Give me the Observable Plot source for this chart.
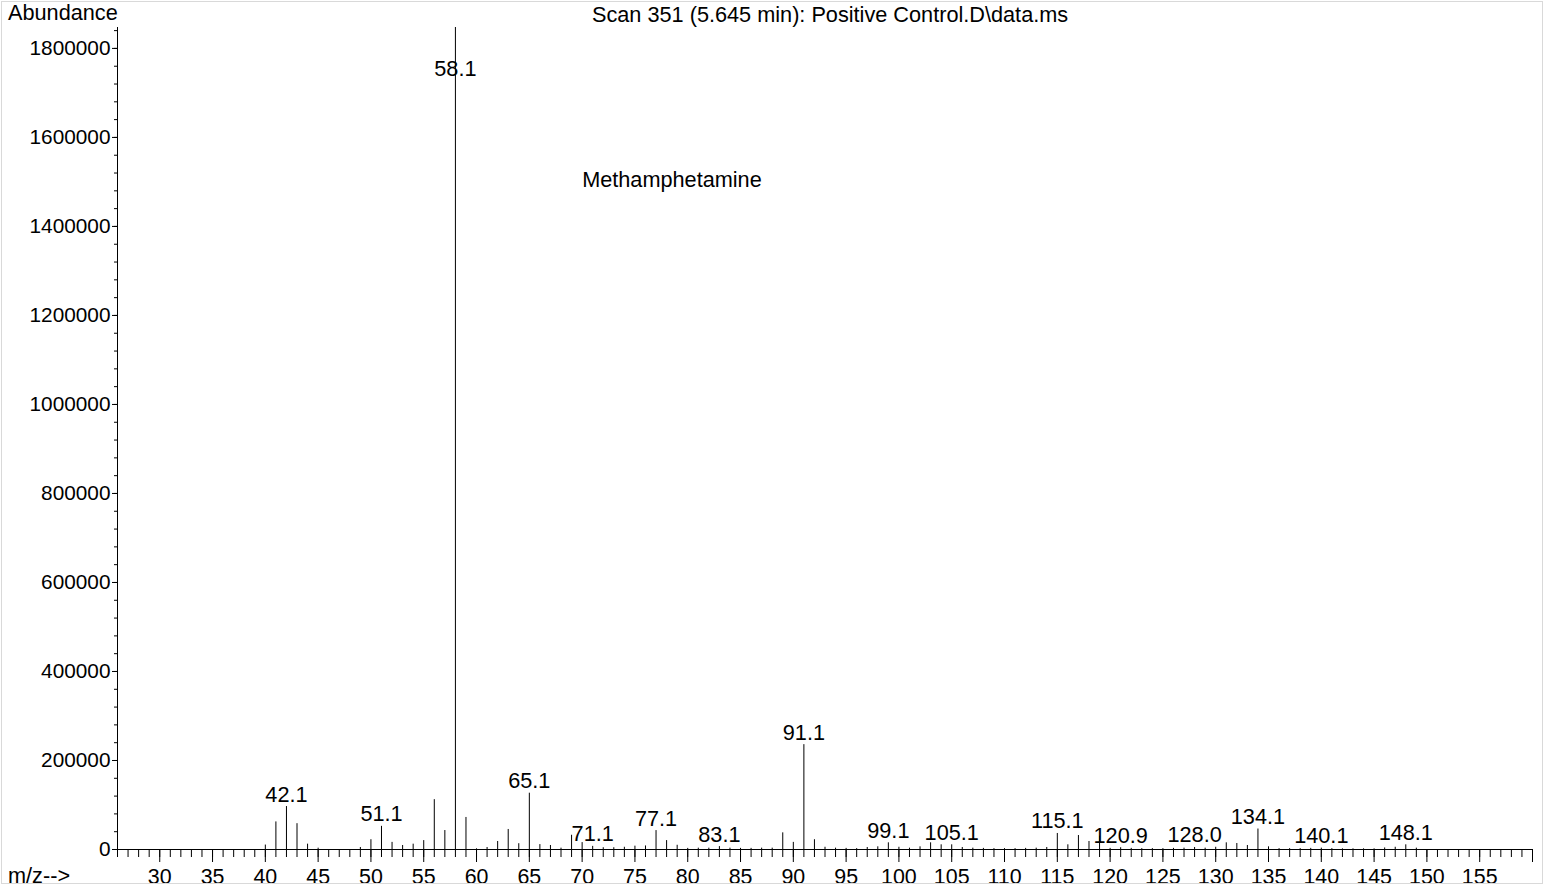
<!DOCTYPE html>
<html>
<head>
<meta charset="utf-8">
<script src="https://cdn.jsdelivr.net/npm/d3@7"></script>
<script src="https://cdn.jsdelivr.net/npm/@observablehq/plot@0.6"></script>
<style>
  html, body { margin: 0; padding: 0; background: #fff; }
  #wrap { position: relative; width: 1551px; height: 888px; overflow: hidden; font-family: "Liberation Sans", Arial, sans-serif; color: #000; }
  #frame { position: absolute; left: 1px; top: 1px; width: 1542px; height: 883px; border: 1px solid #d9d9d9; box-sizing: border-box; pointer-events: none; }
  .lbl { position: absolute; font-size: 21.7px; line-height: 1; white-space: nowrap; }
  #chart svg { display: block; }
</style>
</head>
<body>
<div id="wrap">
  <div id="chart"></div>
  <div id="frame"></div>
  <div class="lbl" style="left:8px; top:2px;">Abundance</div>
  <div class="lbl" style="left:592px; top:4px;">Scan 351 (5.645 min): Positive Control.D\data.ms</div>
  <div class="lbl" style="left:8px; top:865px;">m/z--&gt;</div>
</div>
<script>
// nominal m/z of each ion
const mz = [
  40, 41, 42, 43, 44, 45, 49, 50, 51, 52, 53, 54, 55, 56, 57, 58, 59, 60,
  61, 62, 63, 64, 65, 66, 67, 68, 69, 70, 71, 72, 73, 74, 75, 76, 77, 78,
  79, 80, 81, 82, 83, 84, 85, 86, 87, 88, 89, 90, 91, 92, 93, 94, 95, 96,
  97, 98, 99, 100, 101, 102, 103, 104, 105, 106, 107, 108, 109, 110, 111,
  112, 113, 114, 115, 116, 117, 118, 119, 120, 121, 122, 123, 124, 125, 126,
  127, 128, 129, 130, 131, 132, 133, 134, 135, 136, 137, 138, 139, 140,
  141, 142, 143, 144, 145, 146, 147, 148, 149
];
// abundance of each ion
const abundance = [
  10000, 62000, 96500, 58000, 12000, 3000, 4500, 22000, 52000, 16000, 9000, 12000, 20000, 112000, 42600, 1847000, 72000, 1500,
  4500, 18000, 45000, 13000, 126500, 11000, 9000, 3000, 32000, 15500, 7000, 4000, 4000, 5000, 7500, 8000, 42500, 20000,
  9500, 2500, 3000, 3000, 6500, 3000, 2500, 2500, 3000, 3000, 37400, 16000, 235600, 22000, 5000, 3000, 2500, 2000,
  4500, 6000, 15000, 5000, 3000, 6000, 15000, 10500, 10500, 4500, 3000, 2500, 2000, 2000, 2000,
  2500, 3000, 4500, 36000, 10500, 31400, 18000, 30000, 2500, 4000, 2500, 2000, 2000, 2000, 2500,
  3000, 4500, 3000, 5000, 15000, 13500, 9000, 46000, 6000, 2000, 2000, 2000, 2500, 3000,
  2000, 1500, 1500, 1500, 1500, 3500, 5000, 10500, 3000
];
// labelled peaks: nominal m/z and the printed label
const labelMz   = [42, 51, 65, 71, 77, 83, 91, 99, 105, 115, 121, 128, 134, 140, 148];
const labelText = ["42.1", "51.1", "65.1", "71.1", "77.1", "83.1", "91.1", "99.1", "105.1",
  "115.1", "120.9", "128.0", "134.1", "140.1", "148.1"];
const basePeakMz = 58;
const basePeakText = "58.1";
const compoundName = "Methamphetamine";
const compoundMz = 70;
const compoundAbundance = 1505000;

// axis ticks
const xMajorTicks = d3.range(30, 161, 5);
const xMinorTicks = d3.range(26, 161, 1);
const yMajorTicks = d3.range(0, 1800001, 200000);
const yMinorTicks = d3.range(0, 1847000, 40000);
const xDomain = [26, 160];
const yDomain = [0, 1847000];

const peaks = mz.map((m, i) => ({mz: m, abundance: abundance[i]}));
const byMz = new Map(peaks.map(d => [d.mz, d]));
const labelled = labelMz.map((m, i) => ({mz: m, abundance: byMz.get(m).abundance, text: labelText[i]}));
const base = [{mz: basePeakMz, abundance: byMz.get(basePeakMz).abundance, text: basePeakText}];

const chart = Plot.plot({
  width: 1551,
  height: 888,
  marginLeft: 117,
  marginRight: 19,
  marginTop: 27,
  marginBottom: 39,
  x: {domain: xDomain},
  y: {domain: yDomain},
  style: {fontFamily: "'Liberation Sans', Arial, sans-serif", fontSize: "21.7px", color: "#000", background: "transparent", overflow: "visible"},
  marks: [
    Plot.axisX({ticks: xMinorTicks, tickSize: 8, tickFormat: () => "", label: null}),
    Plot.axisX({ticks: xMajorTicks, tickSize: 13, tickPadding: 6, fontSize: 21.4, tickFormat: d => d < 160 ? String(d) : "", label: null}),
    Plot.axisY({ticks: yMinorTicks, tickSize: 3, tickFormat: () => "", label: null}),
    Plot.axisY({ticks: yMajorTicks, tickSize: 5, tickPadding: 2, fontSize: 20.8, tickFormat: d => String(d), label: null}),
    Plot.ruleY([0]),
    Plot.ruleX([xDomain[0]]),
    Plot.ruleX(peaks, {x: "mz", y1: 0, y2: "abundance", stroke: "#000", strokeWidth: 1}),
    Plot.text(labelled, {x: "mz", y: "abundance", text: "text", lineAnchor: "bottom", dy: -5, fill: "#000"}),
    Plot.text(base, {x: "mz", y: "abundance", text: "text", lineAnchor: "bottom", dy: 48, fill: "#000"}),
    Plot.text([{mz: compoundMz, abundance: compoundAbundance}], {x: "mz", y: "abundance", text: () => compoundName, textAnchor: "start", lineAnchor: "middle", fill: "#000"})
  ]
});
document.getElementById("chart").appendChild(chart);
</script>
</body>
</html>
